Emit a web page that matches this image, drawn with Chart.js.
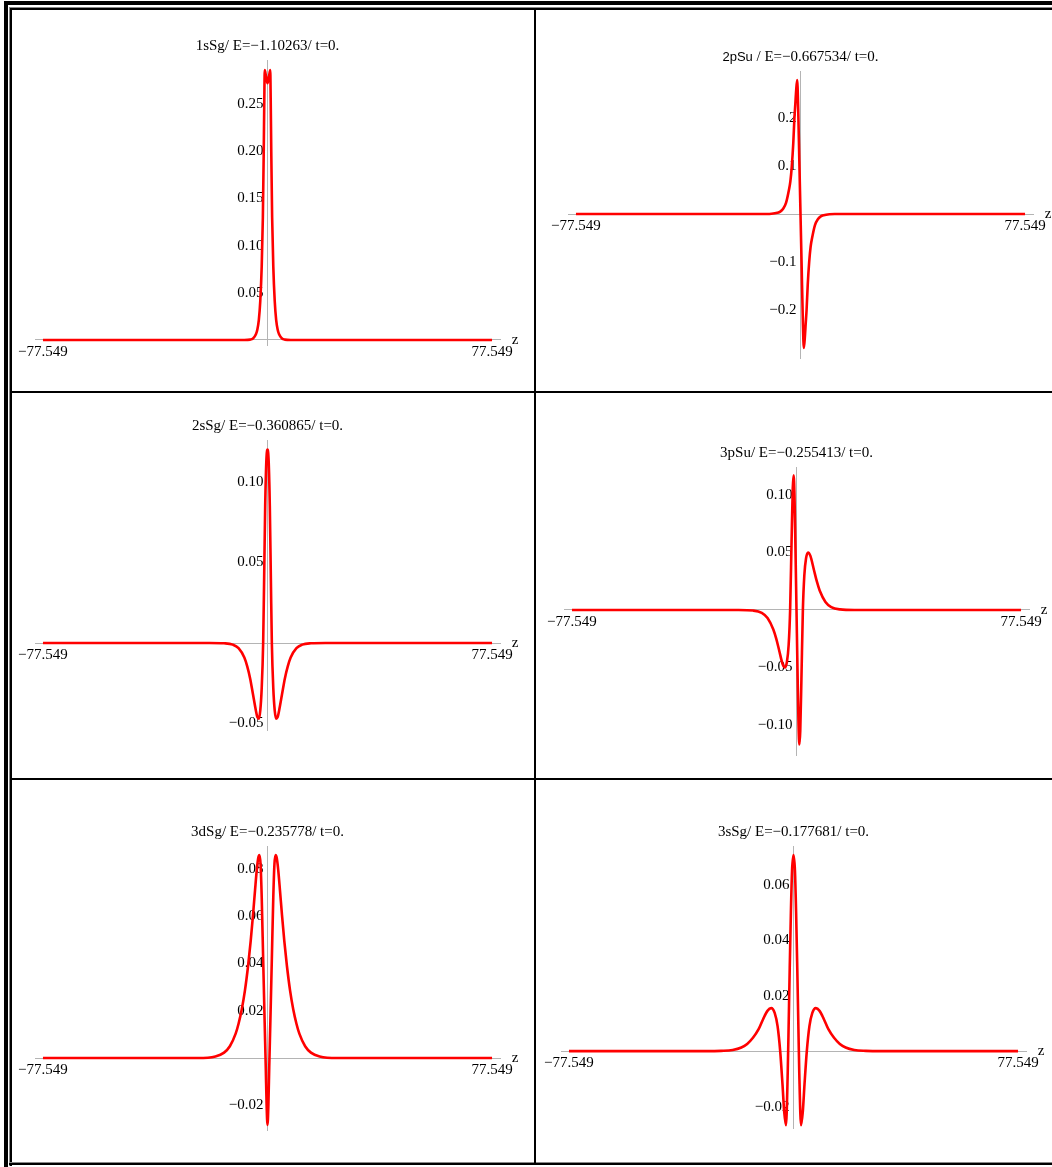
<!DOCTYPE html>
<html>
<head>
<meta charset="utf-8">
<title>H2+ orbitals along z</title>
<script src="https://cdn.jsdelivr.net/npm/chart.js@4.4.1/dist/chart.umd.min.js"></script>
<style>
  body { margin: 0; background: #fff; }
  #sheet { position: relative; width: 1052px; height: 1167px; overflow: hidden; background: #fff; }
  .line { position: absolute; background: #000; }
  .cell { position: absolute; }
  .cell canvas { display: block; }
</style>
</head>
<body>
<div id="sheet">
  <div class="line" style="left:4px;top:1px;width:1048px;height:4px"></div>
  <div class="line" style="left:4px;top:1px;width:4px;height:1166px"></div>
  <div class="line" style="left:9px;top:7px;width:1043px;height:1px;background:#888"></div>
  <div class="line" style="left:9px;top:8px;width:1043px;height:2px"></div>
  <div class="line" style="left:9px;top:7px;width:1px;height:1159px;background:#888"></div>
  <div class="line" style="left:10px;top:8px;width:2px;height:1158px"></div>
  <div class="line" style="left:9px;top:1162px;width:1043px;height:1px;background:#888"></div>
  <div class="line" style="left:9px;top:1163px;width:1043px;height:2px"></div>
  <div class="line" style="left:534px;top:8px;width:2px;height:1157px"></div>
  <div class="line" style="left:10px;top:391px;width:1042px;height:2px"></div>
  <div class="line" style="left:10px;top:778px;width:1042px;height:2px"></div>

  <div class="cell" style="left:12px;top:10px"><canvas id="c1" width="522" height="381"></canvas></div>
  <div class="cell" style="left:536px;top:10px"><canvas id="c2" width="516" height="381"></canvas></div>
  <div class="cell" style="left:12px;top:393px"><canvas id="c3" width="522" height="385"></canvas></div>
  <div class="cell" style="left:536px;top:393px"><canvas id="c4" width="516" height="385"></canvas></div>
  <div class="cell" style="left:12px;top:780px"><canvas id="c5" width="522" height="382"></canvas></div>
  <div class="cell" style="left:536px;top:780px"><canvas id="c6" width="516" height="382"></canvas></div>
</div>

<script>
// grid ends and their labels
const zTicks = [-77.549, 77.549];
const zTickLabels = ['−77.549', '77.549'];

// 1sSg
const z1s = [-77.549, -12, -8, -6, -5, -4, -3.5, -3, -2.5, -2, -1.6, -1.3, -1.1, -0.95, -0.5, 0,
             0.5, 0.95, 1.1, 1.3, 1.6, 2, 2.5, 3, 3.5, 4, 5, 6, 8, 12, 77.549];
const psi1s = [0, 0, 0, 0.0004, 0.0016, 0.006, 0.011, 0.021, 0.041, 0.078, 0.13, 0.2, 0.256, 0.286, 0.279, 0.272,
               0.279, 0.286, 0.256, 0.2, 0.13, 0.078, 0.041, 0.021, 0.011, 0.006, 0.0016, 0.0004, 0, 0, 0];
const yTicks1s = [0.05, 0.10, 0.15, 0.20, 0.25];
const yLabels1s = ['0.05', '0.10', '0.15', '0.20', '0.25'];

// 2pSu
const z2p = [-77.549, -20, -12, -10, -8, -7, -6, -5, -4, -3.5, -3, -2.5, -2.1, -1.8, -1.5, -1.15, -0.8, -0.4, 0,
             0.4, 0.8, 1.15, 1.5, 1.8, 2.1, 2.5, 3, 3.5, 4, 5, 6, 7, 8, 10, 12, 20, 77.549];
const psi2p = [0, 0, 0.0001, 0.0005, 0.0025, 0.005, 0.011, 0.023, 0.05, 0.068, 0.1, 0.147, 0.2, 0.228, 0.257, 0.279, 0.22, 0.11, 0,
               -0.11, -0.22, -0.279, -0.257, -0.228, -0.2, -0.147, -0.1, -0.068, -0.05, -0.023, -0.011, -0.005, -0.0025, -0.0005, -0.0001, 0, 0];
const yTicks2p = [-0.2, -0.1, 0.1, 0.2];
const yLabels2p = ['−0.2', '−0.1', '0.1', '0.2'];

// 2sSg
const z2s = [-77.549, -20, -15, -12, -10, -8, -7, -6, -5, -4, -3.5, -3, -2.5, -2, -1.5, -1.2, -0.8, -0.4, 0,
             0.4, 0.8, 1.2, 1.5, 2, 2.5, 3, 3.5, 4, 5, 6, 7, 8, 10, 12, 15, 20, 77.549];
const psi2s = [0, 0, -0.0002, -0.001, -0.0032, -0.009, -0.0145, -0.022, -0.032, -0.042, -0.046, -0.047, -0.042, -0.028, 0, 0.035, 0.085, 0.113, 0.12,
               0.113, 0.085, 0.035, 0, -0.028, -0.042, -0.047, -0.046, -0.042, -0.032, -0.022, -0.0145, -0.009, -0.0032, -0.001, -0.0002, 0, 0];
const yTicks2s = [-0.05, 0.05, 0.10];
const yLabels2s = ['−0.05', '0.05', '0.10'];

// 3pSu
const z3p = [-77.549, -20, -15, -12, -10, -8, -7, -6, -4.8, -4, -3.3, -2.7, -2.2, -1.7, -1.3, -1.0, -0.7, -0.4, 0,
             0.4, 0.7, 1.0, 1.3, 1.7, 2.2, 2.7, 3.3, 4, 4.8, 6, 7, 8, 10, 12, 15, 20, 77.549];
const psi3p = [0, 0, -0.0005, -0.0025, -0.007, -0.017, -0.025, -0.035, -0.047, -0.05, -0.045, -0.03, 0, 0.06, 0.105, 0.117, 0.1, 0.06, 0,
               -0.06, -0.1, -0.117, -0.105, -0.06, 0, 0.03, 0.045, 0.05, 0.047, 0.035, 0.025, 0.017, 0.007, 0.0025, 0.0005, 0, 0];
const yTicks3p = [-0.10, -0.05, 0.05, 0.10];
const yLabels3p = ['−0.10', '−0.05', '0.05', '0.10'];

// 3dSg
const z3d = [-77.549, -24, -18, -15, -13, -11, -10, -8.9, -7.8, -6.7, -5.8, -5, -4.3, -3.7, -3.2, -2.8, -2.4, -2.0, -1.5, -1.0, -0.6, -0.3, 0,
             0.3, 0.6, 1.0, 1.5, 2.0, 2.4, 2.8, 3.2, 3.7, 4.3, 5, 5.8, 6.7, 7.8, 8.9, 10, 11, 13, 15, 18, 24, 77.549];
const psi3d = [0, 0, 0.0007, 0.0023, 0.005, 0.0103, 0.0145, 0.0205, 0.0285, 0.039, 0.0495, 0.0605, 0.071, 0.0795, 0.0845, 0.0858, 0.082, 0.068, 0.042, 0.016, -0.004, -0.02, -0.0283,
               -0.02, -0.004, 0.016, 0.042, 0.068, 0.082, 0.0858, 0.0845, 0.0795, 0.071, 0.0605, 0.0495, 0.039, 0.0285, 0.0205, 0.0145, 0.0103, 0.005, 0.0023, 0.0007, 0, 0];
const yTicks3d = [-0.02, 0.02, 0.04, 0.06, 0.08];
const yLabels3d = ['−0.02', '0.02', '0.04', '0.06', '0.08'];

// 3sSg
const z3s = [-77.549, -30, -25, -21, -18, -16, -14, -12, -10.5, -9, -7.7, -6.5, -5.5, -4.6, -3.8, -3.2, -2.6, -2.0, -1.7, -1.3, -0.9, -0.5, 0,
             0.5, 0.9, 1.3, 1.7, 2.0, 2.6, 3.2, 3.8, 4.6, 5.5, 6.5, 7.7, 9, 10.5, 12, 14, 16, 18, 21, 25, 30, 77.549];
const psi3s = [0, 0, 0.0001, 0.0004, 0.0013, 0.0026, 0.0048, 0.008, 0.0115, 0.0145, 0.0155, 0.0138, 0.009, 0, -0.012, -0.022, -0.0267, -0.008, 0.008, 0.03, 0.05, 0.065, 0.0706,
               0.065, 0.05, 0.03, 0.008, -0.008, -0.0267, -0.022, -0.012, 0, 0.009, 0.0138, 0.0155, 0.0145, 0.0115, 0.008, 0.0048, 0.0026, 0.0013, 0.0004, 0.0001, 0, 0];
const yTicks3s = [-0.02, 0.02, 0.04, 0.06];
const yLabels3s = ['−0.02', '0.02', '0.04', '0.06'];

const SERIF = '"Liberation Serif", "Times New Roman", serif';
const SANS = '"Liberation Sans", Arial, sans-serif';

// pad = distance of the plot box from the canvas edges
const panels = [
  { id: 'c1', title: [['1sSg/ E=−1.10263/ t=0.', SERIF, 15]], z: z1s, psi: psi1s,
    yTicks: yTicks1s, yLabels: yLabels1s, yMin: -0.0053, yMax: 0.2966,
    pad: { left: 23, right: 34, top: 50, bottom: 46 } },
  { id: 'c2', title: [['2pSu', SANS, 13], [' / E=−0.667534/ t=0.', SERIF, 15]], z: z2p, psi: psi2p,
    yTicks: yTicks2p, yLabels: yLabels2p, yMin: -0.300, yMax: 0.298,
    pad: { left: 32, right: 19, top: 61, bottom: 33 } },
  { id: 'c3', title: [['2sSg/ E=−0.360865/ t=0.', SERIF, 15]], z: z2s, psi: psi2s,
    yTicks: yTicks2s, yLabels: yLabels2s, yMin: -0.054, yMax: 0.126,
    pad: { left: 23, right: 34, top: 47, bottom: 48 } },
  { id: 'c4', title: [['3pSu/ E=−0.255413/ t=0.', SERIF, 15]], z: z3p, psi: psi3p,
    yTicks: yTicks3p, yLabels: yLabels3p, yMin: -0.1261, yMax: 0.1243,
    pad: { left: 28, right: 23, top: 74, bottom: 23 } },
  { id: 'c5', title: [['3dSg/ E=−0.235778/ t=0.', SERIF, 15]], z: z3d, psi: psi3d,
    yTicks: yTicks3d, yLabels: yLabels3d, yMin: -0.0304, yMax: 0.0896,
    pad: { left: 23, right: 34, top: 66, bottom: 32 } },
  { id: 'c6', title: [['3sSg/ E=−0.177681/ t=0.', SERIF, 15]], z: z3s, psi: psi3s,
    yTicks: yTicks3s, yLabels: yLabels3s, yMin: -0.0277, yMax: 0.0739,
    pad: { left: 25, right: 26, top: 66, bottom: 34 } },
];

Chart.defaults.font.family = SERIF;
Chart.defaults.font.size = 15;
Chart.defaults.color = '#000';

// title above the plot and the "z" at the end of the axis
const axisText = {
  id: 'axisText',
  afterDraw(chart, args, opts) {
    const { ctx, chartArea, scales } = chart;
    ctx.save();
    ctx.fillStyle = '#000';
    ctx.textBaseline = 'alphabetic';
    ctx.textAlign = 'left';
    let total = 0;
    const widths = opts.title.map(([txt, fam, size]) => {
      ctx.font = size + 'px ' + fam;
      const w = ctx.measureText(txt).width;
      total += w;
      return w;
    });
    let tx = scales.x.getPixelForValue(0) - total / 2;
    const ty = chartArea.top - 10;
    opts.title.forEach(([txt, fam, size], i) => {
      ctx.font = size + 'px ' + fam;
      ctx.fillText(txt, tx, ty);
      tx += widths[i];
    });
    ctx.font = '15px ' + SERIF;
    ctx.textAlign = 'center';
    ctx.fillText('z', chartArea.right + 15, scales.y.getPixelForValue(0) + 4);
    ctx.restore();
  }
};

panels.forEach(p => {
  new Chart(document.getElementById(p.id), {
    type: 'line',
    data: {
      datasets: [{
        data: p.z.map((z, i) => ({ x: z, y: p.psi[i] })),
        borderColor: '#ff0000',
        borderWidth: 2.6,
        pointRadius: 0,
        fill: false,
        cubicInterpolationMode: 'monotone',
      }],
    },
    options: {
      responsive: false,
      animation: false,
      layout: { padding: p.pad },
      plugins: {
        legend: { display: false },
        tooltip: { enabled: false },
        axisText: { title: p.title },
      },
      scales: {
        x: {
          type: 'linear',
          min: -80.3,
          max: 80.3,
          position: { y: 0 },
          grid: { display: false, drawTicks: false },
          border: { color: '#b4b4b4', width: 1 },
          afterBuildTicks: axis => { axis.ticks = zTicks.map(v => ({ value: v })); },
          ticks: {
            autoSkip: false,
            maxRotation: 0,
            padding: 3,
            callback: (v, i) => zTickLabels[i],
          },
        },
        y: {
          type: 'linear',
          min: p.yMin,
          max: p.yMax,
          position: 'center',
          grid: { display: false, drawTicks: false },
          border: { color: '#b4b4b4', width: 1 },
          afterBuildTicks: axis => { axis.ticks = p.yTicks.map(v => ({ value: v })); },
          ticks: {
            autoSkip: false,
            padding: 4,
            callback: (v, i) => p.yLabels[i],
          },
        },
      },
    },
    plugins: [axisText],
  });
});
</script>
</body>
</html>
